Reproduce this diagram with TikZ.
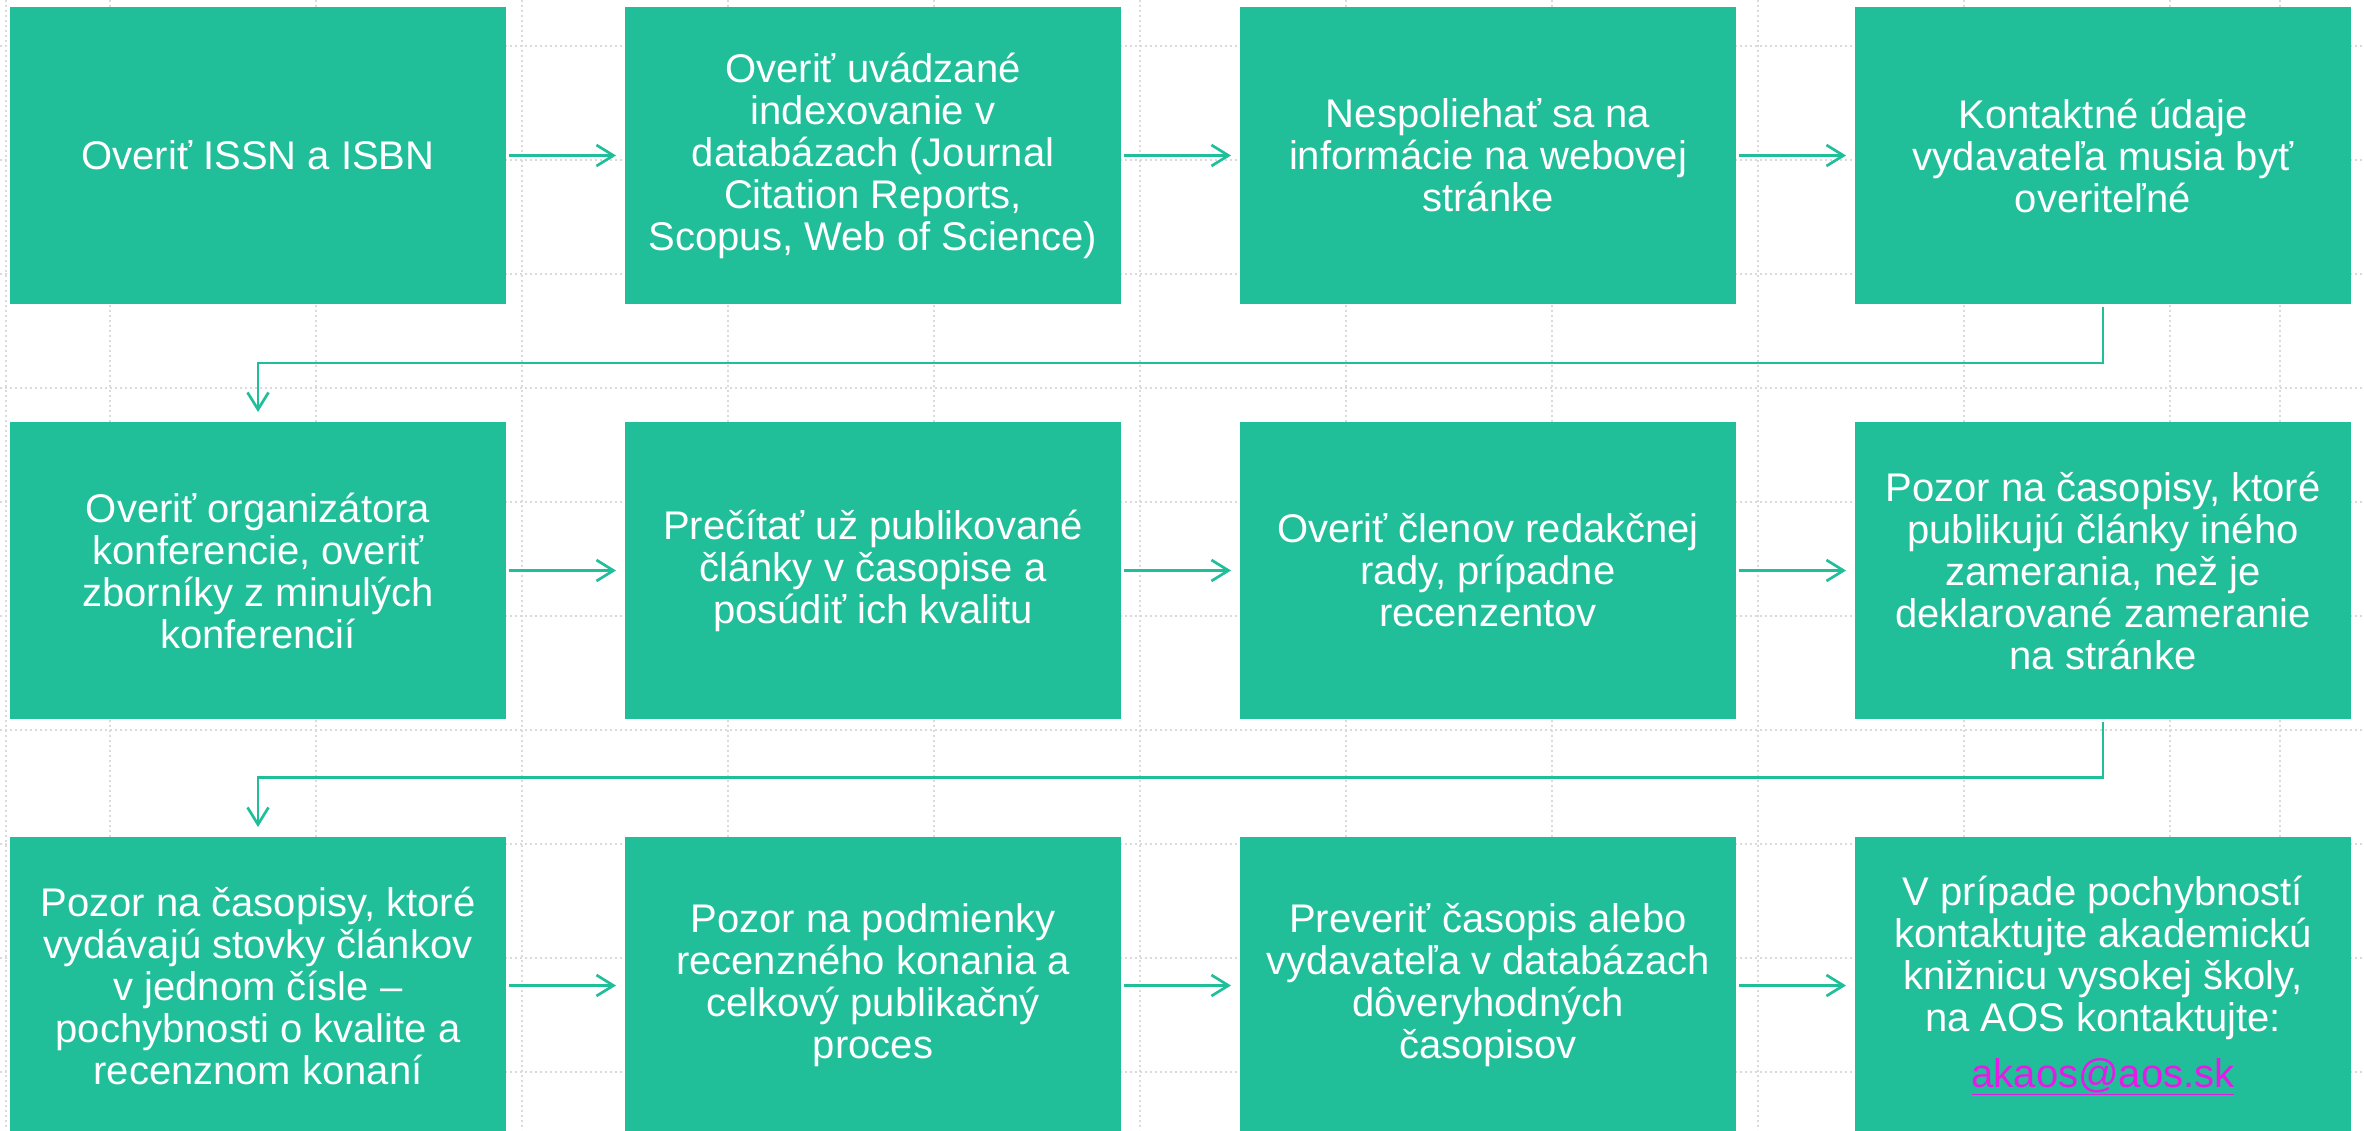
\documentclass[tikz,border=0pt]{standalone}
\usepackage{fontspec}
\setmainfont{Liberation Sans}
\usetikzlibrary{arrows.meta}
\definecolor{tealbox}{RGB}{33,190,154}
\definecolor{linkc}{RGB}{230,26,230}
\definecolor{gridc}{RGB}{218,218,218}
\begin{document}
\begin{tikzpicture}[x=1pt,y=-1pt,
  box/.style={fill=tealbox, minimum width=496pt, minimum height=297pt, inner sep=0pt, outer sep=0pt,
    align=center, text=white, font=\fontsize{40}{42}\selectfont},
  arr/.style={draw=tealbox, line width=2.7pt, -{Straight Barb[length=17pt,width=21pt]}},
  gridl/.style={draw=gridc, line width=2pt, dash pattern=on 2pt off 3pt}]
\useasboundingbox (0,0) rectangle (2364,1130);
% background dotted grid
\foreach \y in {46,160,274,388,502,616,730,844,958,1072} \draw[gridl] (0,\y) -- (2364,\y);
\foreach \x in {6,110,316,522,728,934,1140,1346,1552,1758,1964,2170,2280} \draw[gridl] (\x,0) -- (\x,1130);
% row 1
\node[box] (b1) at (258,155.5) {Overiť ISSN a ISBN};
\node[box] (b2) at (873,155.5) {Overiť uvádzané\\indexovanie v\\databázach (Journal\\Citation Reports,\\Scopus, Web of Science)};
\node[box] (b3) at (1488,155.5) {Nespoliehať sa na\\informácie na webovej\\stránke};
\node[box] (b4) at (2103,155.5) {Kontaktné údaje\\vydavateľa musia byť\\overiteľné};
% row 2
\node[box] (b5) at (258,570.5) {Overiť organizátora\\konferencie, overiť\\zborníky z minulých\\konferencií};
\node[box] (b6) at (873,570.5) {Prečítať už publikované\\články v časopise a\\posúdiť ich kvalitu};
\node[box] (b7) at (1488,570.5) {Overiť členov redakčnej\\rady, prípadne\\recenzentov};
\node[box] (b8) at (2103,570.5) {Pozor na časopisy, ktoré\\publikujú články iného\\zamerania, než je\\deklarované zameranie\\na stránke};
% row 3
\node[box] (b9) at (258,985.5) {Pozor na časopisy, ktoré\\vydávajú stovky článkov\\v jednom čísle –\\pochybnosti o kvalite a\\recenznom konaní};
\node[box] (b10) at (873,985.5) {Pozor na podmienky\\recenzného konania a\\celkový publikačný\\proces};
\node[box] (b11) at (1488,985.5) {Preveriť časopis alebo\\vydavateľa v databázach\\dôveryhodných\\časopisov};
\node[box] (b12) at (2103,985.5) {V prípade pochybností\\kontaktujte akademickú\\knižnicu vysokej školy,\\na AOS kontaktujte:\\[14pt]\textcolor{linkc}{\underline{akaos@aos.sk}}};
% horizontal arrows
\foreach \a/\b in {b1/b2,b2/b3,b3/b4,b5/b6,b6/b7,b7/b8,b9/b10,b10/b11,b11/b12}
  \draw[arr, shorten <=3pt, shorten >=9pt] (\a) -- (\b);
% elbow connectors
\coordinate (m1) at (0,363);
\coordinate (m2) at (0,777.5);
\draw[arr, shorten <=3pt, shorten >=10pt] (b4.south) -- (b4.south |- m1) -- (b5.north |- m1) -- (b5.north);
\draw[arr, shorten <=3pt, shorten >=10pt] (b8.south) -- (b8.south |- m2) -- (b9.north |- m2) -- (b9.north);
\end{tikzpicture}
\end{document}
